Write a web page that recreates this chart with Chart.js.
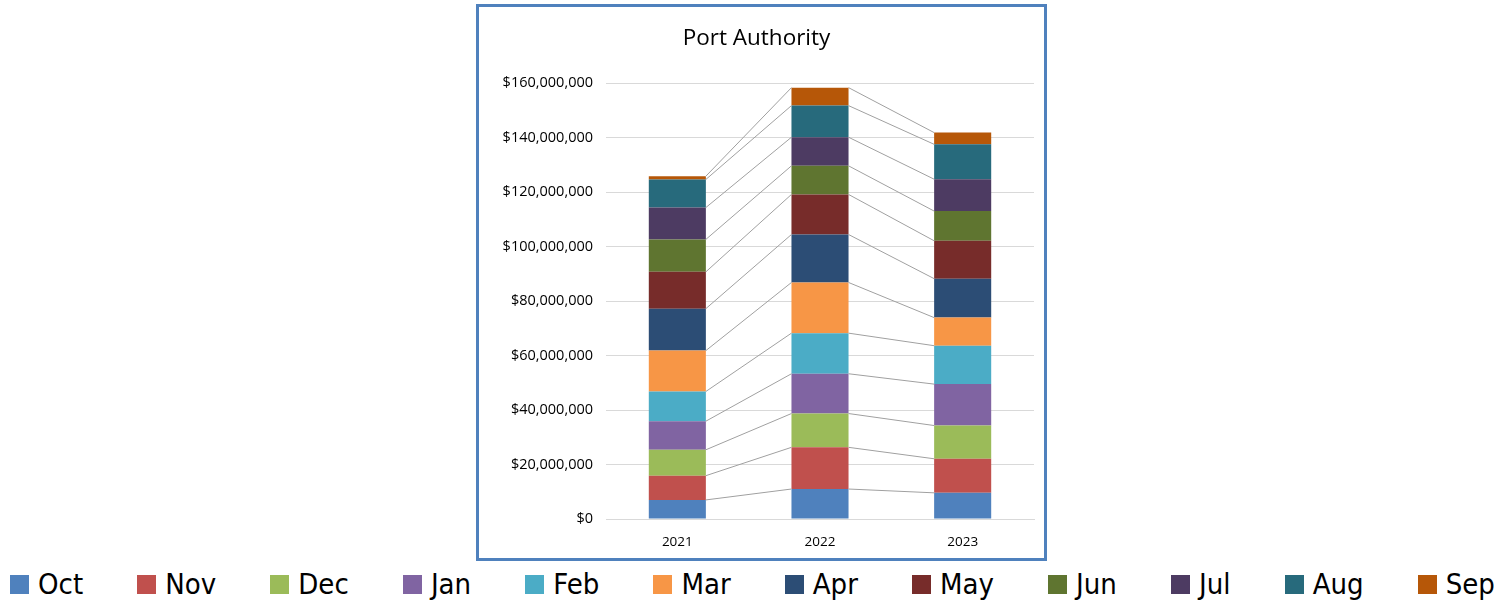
<!DOCTYPE html>
<html>
<head>
<meta charset="utf-8">
<script src="https://cdn.jsdelivr.net/npm/chart.js@4.4.1/dist/chart.umd.min.js"></script>
<style>
  html, body { margin: 0; padding: 0; background: #fff; }
  body { width: 1503px; height: 603px; position: relative; overflow: hidden; }
  #box {
    position: absolute; left: 476px; top: 4px; width: 571px; height: 557px;
    border: 3px solid #4F81BD; box-sizing: border-box; background: #fff;
  }
  #wrap { position: absolute; left: 0; top: 0; right: 0; bottom: 0; }
  #legend {
    position: absolute; left: 10px; right: 8px; top: 565px; height: 38px;
    display: flex; justify-content: space-between; align-items: center;
    font-family: "Liberation Sans Narrow", "DejaVu Sans Condensed", "Open Sans", sans-serif;
    font-size: 29px; color: #000;
  }
  .item { display: flex; align-items: center; white-space: nowrap; }
  .swatch { width: 19px; height: 19px; margin-right: 9px; }
</style>
</head>
<body>
<div id="box"><div id="wrap"><canvas id="chart"></canvas></div></div>
<div id="legend"></div>
<script>
// Categories and monthly values (millions of dollars)
const years = ['2021', '2022', '2023'];
const months = ['Oct', 'Nov', 'Dec', 'Jan', 'Feb', 'Mar', 'Apr', 'May', 'Jun', 'Jul', 'Aug', 'Sep'];
const oct = [7.0, 11.0, 9.6];
const nov = [8.9, 15.3, 12.5];
const dec = [9.5, 12.4, 12.2];
const jan = [10.5, 14.6, 15.2];
const feb = [10.9, 14.9, 14.1];
const mar = [15.0, 18.6, 10.3];
const apr = [15.4, 17.6, 14.3];
const may = [13.5, 14.7, 13.9];
const jun = [11.9, 10.5, 10.9];
const jul = [11.7, 10.5, 11.7];
const aug = [10.3, 11.6, 12.8];
const sep = [1.2, 6.6, 4.3];
const colors = ['#4F81BD', '#C0504D', '#9BBB59', '#8064A2', '#4BACC6', '#F79646',
                '#2C4D75', '#772C2A', '#5F7530', '#4D3B62', '#276A7C', '#B65708'];

const series = [oct, nov, dec, jan, feb, mar, apr, may, jun, jul, aug, sep];

const datasets = series.map((vals, i) => ({
    label: months[i],
    data: vals.map(v => v * 1000000),
    backgroundColor: colors[i],
    borderWidth: 0,
    categoryPercentage: 1.0,
    barPercentage: 0.4
}));

// Excel style series lines joining the segment tops of neighbouring bars
const seriesLines = {
    id: 'seriesLines',
    afterDatasetsDraw(chart) {
        const ctx = chart.ctx;
        ctx.save();
        ctx.strokeStyle = '#A0A0A0';
        ctx.lineWidth = 1;
        chart.data.datasets.forEach((ds, i) => {
            const bars = chart.getDatasetMeta(i).data;
            for (let j = 0; j < bars.length - 1; j++) {
                const a = bars[j], b = bars[j + 1];
                ctx.beginPath();
                ctx.moveTo(a.x + a.width / 2, a.y);
                ctx.lineTo(b.x - b.width / 2, b.y);
                ctx.stroke();
            }
        });
        ctx.restore();
    }
};

const tickFont = { family: 'Open Sans', size: 14.5 };

const chart = new Chart(document.getElementById('chart'), {
    type: 'bar',
    data: { labels: years, datasets: datasets },
    options: {
        responsive: true,
        maintainAspectRatio: false,
        animation: false,
        layout: { padding: { left: 0, right: 10, top: 0, bottom: 0 } },
        scales: {
            x: {
                stacked: true,
                grid: { display: false, drawTicks: false },
                border: { color: '#D9D9D9', width: 1 },
                ticks: { color: '#000', font: { family: 'Open Sans', size: 13.5 }, padding: 15 },
                afterFit: s => { s.height = 39; }
            },
            y: {
                stacked: true,
                min: 0,
                max: 160000000,
                ticks: {
                    stepSize: 20000000,
                    color: '#000',
                    font: tickFont,
                    padding: 13,
                    callback: v => '$' + v.toLocaleString('en-US')
                },
                grid: { color: '#D9D9D9', drawTicks: false },
                border: { display: false },
                afterFit: s => { s.width = 127; }
            }
        },
        plugins: {
            legend: { display: false },
            tooltip: { enabled: false },
            title: {
                display: true,
                text: 'Port Authority',
                color: '#000',
                font: { family: 'Open Sans', size: 22.5, weight: 'normal' },
                padding: { top: 18, bottom: 31 }
            }
        }
    },
    plugins: [seriesLines]
});

// HTML legend from the chart's own legend items
const legendEl = document.getElementById('legend');
chart.options.plugins.legend.labels.generateLabels(chart).forEach(item => {
    const el = document.createElement('div');
    el.className = 'item';
    const sw = document.createElement('span');
    sw.className = 'swatch';
    sw.style.background = item.fillStyle;
    const tx = document.createElement('span');
    tx.textContent = item.text;
    el.appendChild(sw);
    el.appendChild(tx);
    legendEl.appendChild(el);
});
</script>
</body>
</html>
